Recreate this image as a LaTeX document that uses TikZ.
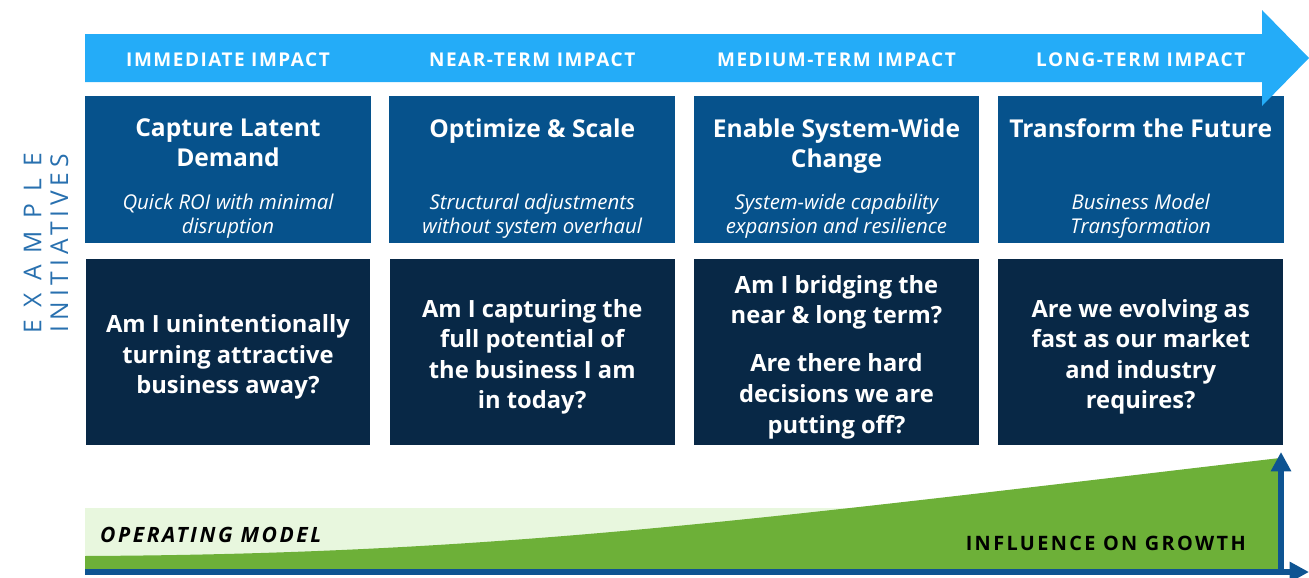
\documentclass[tikz,border=0pt]{standalone}
\usepackage{fontspec}
\setmainfont{Open Sans}
\newfontfamily\capsfont[LetterSpace=8]{Open Sans}
\newfontfamily\widecaps[LetterSpace=12]{Open Sans}
\newfontfamily\sidefont[LetterSpace=50]{Open Sans}
\newfontfamily\sidefontnarrow[LetterSpace=20]{Open Sans}
\usetikzlibrary{positioning, arrows.meta}

\definecolor{phaseblue}{RGB}{36,172,248}
\definecolor{initblue}{RGB}{6,82,140}
\definecolor{askblue}{RGB}{8,40,70}
\definecolor{axisblue}{RGB}{14,84,146}
\definecolor{sideblue}{RGB}{40,112,175}
\definecolor{growgreen}{RGB}{109,176,56}
\definecolor{palegreen}{RGB}{232,247,222}

\begin{document}
\begin{tikzpicture}[x=0.02cm, y=-0.02cm]
	\tikzstyle{init} = [ fill=initblue, inner sep=0pt, minimum width=5.72cm, minimum height=2.94cm, node distance=6.086cm ];
	\tikzstyle{ask} = [ fill=askblue, inner sep=0pt, minimum width=5.7cm, minimum height=3.72cm, node distance=3.65cm ];
	\tikzstyle{question} = [ text=white, align=center, inner sep=0pt, font={\bfseries\fontsize{13.5}{17.4}\selectfont} ];
	\tikzstyle{title} = [ text=white, align=center, inner sep=0pt, font={\bfseries\fontsize{14}{17}\selectfont} ];
	\tikzstyle{sub} = [ text=white, align=center, inner sep=0pt, font={\itshape\fontsize{11.6}{13.6}\selectfont} ];
	\tikzstyle{phase} = [ text=white, font={\capsfont\bfseries\fontsize{10.8}{12}\selectfont} ];
	\tikzstyle{axis} = [ draw=axisblue, line width=3.4pt, -{Triangle[length=11pt, width=11pt]} ];

	\useasboundingbox (0,0) rectangle (1309,578);

	% initiative boxes, then the questions under them
	\foreach \t/\s [count=\xi] in {
		Capture Latent\\Demand/Quick ROI with minimal\\disruption,
		Optimize \& Scale/Structural adjustments\\without system overhaul,
		Enable System-Wide\\Change/System-wide capability\\expansion and resilience,
		Transform the Future/Business Model\\Transformation} {
		\ifnum 1 < \xi
			\pgfmathparse{int(\xi-1)}
			\let \li \pgfmathresult
			\node[init, right of=i\li] (i\xi) {};
		\else
			\node[init] (i\xi) at (228,169.5) {};
		\fi
		\node[title, anchor=north] (t\xi) at ([yshift=-0.46cm]i\xi.north) {\t};
		\node[sub] (s\xi) at ([yshift=-0.93cm]i\xi.center) {\s};
	}

	\foreach \q [count=\xi] in {
		{Am I unintentionally\\turning attractive\\business away?},
		{Am I capturing the\\full potential of\\the business I am\\in today?},
		{Am I bridging the\\near \& long term?\\[10pt]Are there hard\\decisions we are\\putting off?},
		{Are we evolving as\\fast as our market\\and industry\\requires?}} {
		\node[ask, below of=i\xi] (q\xi) {};
		\node[question] (a\xi) at ([yshift=-0.1cm]q\xi.center) {\q};
	}

	% time arrow across the top
	\fill[phaseblue] (85,34) -- (1262,34) -- (1262,10) -- (1309,58) -- (1262,106) -- (1262,82) -- (85,82) -- cycle;
	\foreach \p [count=\xi] in {IMMEDIATE IMPACT, NEAR-TERM IMPACT, MEDIUM-TERM IMPACT, LONG-TERM IMPACT}
		\node[phase] (p\xi) at ([yshift=0.72cm]i\xi.north) {\p};

	\node[rotate=90, align=center, text=sideblue, font={\fontsize{14}{15.3}\selectfont}] (side) at (46,243) {{\sidefont EXAMPLE}\\{\sidefontnarrow INITIATIVES}};

	% growth curve
	\fill[palegreen] (85,508) rectangle (1280,570);
	\fill[growgreen] (85,570) -- (85,556) .. controls (500,554) and (750,520) .. (1280,458) -- (1280,570) -- cycle;
	\coordinate (origin) at (85,572);
	\coordinate (corner) at (1281,572);
	\coordinate (xend) at (1309,572);
	\coordinate (yend) at (1281,452);
	\draw[axis] (origin) -- (xend);
	\draw[axis] (corner) -- (yend);

	\node[anchor=west, font={\widecaps\bfseries\itshape\fontsize{12}{13}\selectfont}] (om) at (94,535) {OPERATING MODEL};
	\node[anchor=east, font={\widecaps\bfseries\fontsize{11.3}{13}\selectfont}, text=black] (growth) at (1252,543) {INFLUENCE ON GROWTH};
\end{tikzpicture}
\end{document}
